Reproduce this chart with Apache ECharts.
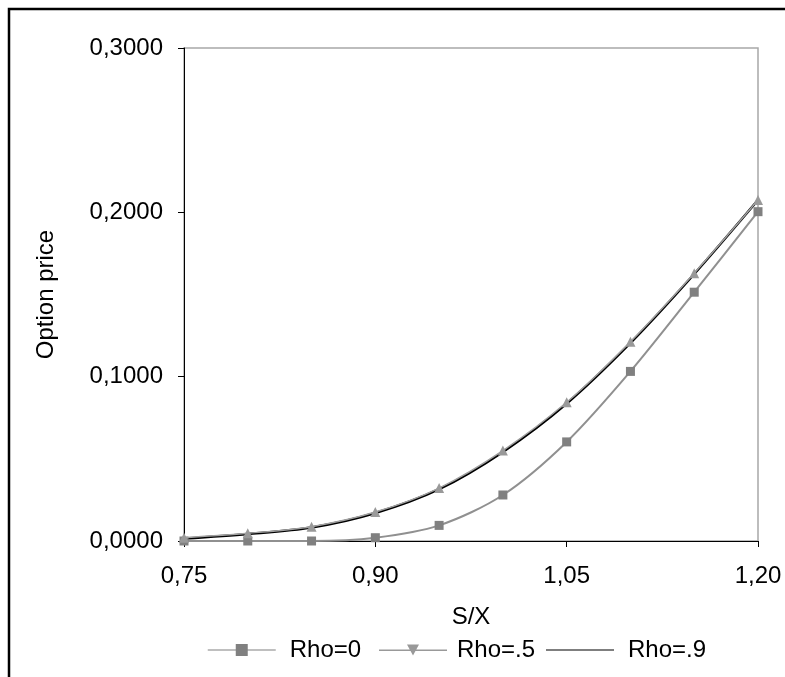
<!DOCTYPE html>
<html>
<head>
<meta charset="utf-8">
<script src="https://cdn.jsdelivr.net/npm/echarts@6/dist/echarts.min.js"></script>
<style>
  html, body { margin: 0; padding: 0; background: #fff; }
  #chart { width: 785px; height: 677px; }
</style>
</head>
<body>
<div id="chart"></div>
<script>
// S/X values (x axis)
var sx = [0.75, 0.80, 0.85, 0.90, 0.95, 1.00, 1.05, 1.10, 1.15, 1.20];
// option prices
var rho0 = [0.0000, 0.0000, 0.0000, 0.0020, 0.0095, 0.0280, 0.0603, 0.1032, 0.1514, 0.2004];
var rho5 = [0.0020, 0.0047, 0.0087, 0.0176, 0.0322, 0.0550, 0.0844, 0.1213, 0.1630, 0.2075];
var rho9 = [0.0015, 0.0043, 0.0082, 0.0170, 0.0315, 0.0542, 0.0836, 0.1205, 0.1625, 0.2075];

var seriesNames = ['Rho=0', 'Rho=.5', 'Rho=.9'];

function pairs(ys) {
    var out = [];
    for (var i = 0; i < sx.length; i++) out.push([sx[i], ys[i]]);
    return out;
}

var font = '"Liberation Sans", Arial, sans-serif';
var chart = echarts.init(document.getElementById('chart'));

// one legend block per entry so the gaps can follow the picture
function legendBlock(name, left, extra) {
    var l = {
        left: left,
        top: 633,
        itemWidth: 68,
        itemHeight: 15,
        textStyle: { fontSize: 24, color: '#000', fontFamily: font, padding: [0, 0, 0, 9] },
        data: [{ name: name }]
    };
    for (var k in extra) l[k] = extra[k];
    return l;
}

var option = {
    animation: false,
    backgroundColor: '#ffffff',
    textStyle: { fontFamily: font },
    graphic: [{
        type: 'rect',
        shape: { x: 9, y: 9, width: 800, height: 720 },
        style: { fill: 'none', stroke: '#000', lineWidth: 2.5 },
        z: 10
    }],
    grid: {
        left: 184, right: 27, top: 48, bottom: 136,
        show: true,
        borderColor: '#a8a8a8',
        borderWidth: 1.5
    },
    legend: [
        legendBlock(seriesNames[0], 202, {
            lineStyle: { color: '#aaaaaa', width: 1.5 },
            itemStyle: { color: '#808080' }
        }),
        legendBlock(seriesNames[1], 374, {
            data: [{ name: seriesNames[1],
                     icon: 'path://M0,5 L68,5 L68,6.5 L0,6.5 Z M28,0 L40,0 L34,11 Z' }],
            itemStyle: { color: '#999999', borderWidth: 0 },
            textStyle: { fontSize: 24, color: '#000', fontFamily: font, padding: [0, 0, 0, 5] }
        }),
        legendBlock(seriesNames[2], 541, {
            data: [{ name: seriesNames[2], icon: 'path://M0,0 L68,0 L68,1.6 L0,1.6 Z' }],
            itemStyle: { color: '#555555', borderWidth: 0 },
            textStyle: { fontSize: 24, color: '#000', fontFamily: font, padding: [0, 0, 0, 9] }
        })
    ],
    xAxis: {
        type: 'value',
        min: 0.75,
        max: 1.20,
        interval: 0.15,
        name: 'S/X',
        nameLocation: 'middle',
        nameGap: 64,
        nameTextStyle: { fontSize: 24, color: '#000' },
        axisLine: { onZero: false, lineStyle: { color: '#000', width: 1 } },
        axisTick: { show: true, length: 6, lineStyle: { color: '#000' } },
        axisLabel: {
            fontSize: 24, color: '#000', margin: 23,
            formatter: function (v) { return v.toFixed(2).replace('.', ','); }
        },
        splitLine: { show: false }
    },
    yAxis: {
        type: 'value',
        min: 0,
        max: 0.3,
        interval: 0.1,
        name: 'Option price',
        nameLocation: 'middle',
        nameRotate: 90,
        nameGap: 126,
        nameTextStyle: { fontSize: 24, color: '#000' },
        axisLine: { show: true, lineStyle: { color: '#000', width: 1 } },
        axisTick: { show: true, length: 6, lineStyle: { color: '#000' } },
        axisLabel: {
            fontSize: 24, color: '#000', margin: 21,
            formatter: function (v) { return v.toFixed(4).replace('.', ','); }
        },
        splitLine: { show: false }
    },
    series: [
        {
            name: seriesNames[0],
            type: 'line',
            data: pairs(rho0),
            smooth: 0.3,
            symbol: 'rect',
            symbolSize: 9,
            color: '#808080',
            lineStyle: { color: '#909090', width: 2 },
            itemStyle: { color: '#808080' },
            z: 3
        },
        {
            name: seriesNames[1],
            type: 'line',
            data: pairs(rho5),
            smooth: 0.3,
            symbol: 'triangle',
            symbolSize: 10,
            color: '#999999',
            lineStyle: { color: '#a0a0a0', width: 1.5 },
            itemStyle: { color: '#999999' },
            z: 4
        },
        {
            name: seriesNames[2],
            type: 'line',
            data: pairs(rho9),
            smooth: 0.3,
            symbol: 'none',
            color: '#555555',
            lineStyle: { color: '#000', width: 2.5 },
            z: 2
        }
    ]
};
chart.setOption(option);
</script>
</body>
</html>
